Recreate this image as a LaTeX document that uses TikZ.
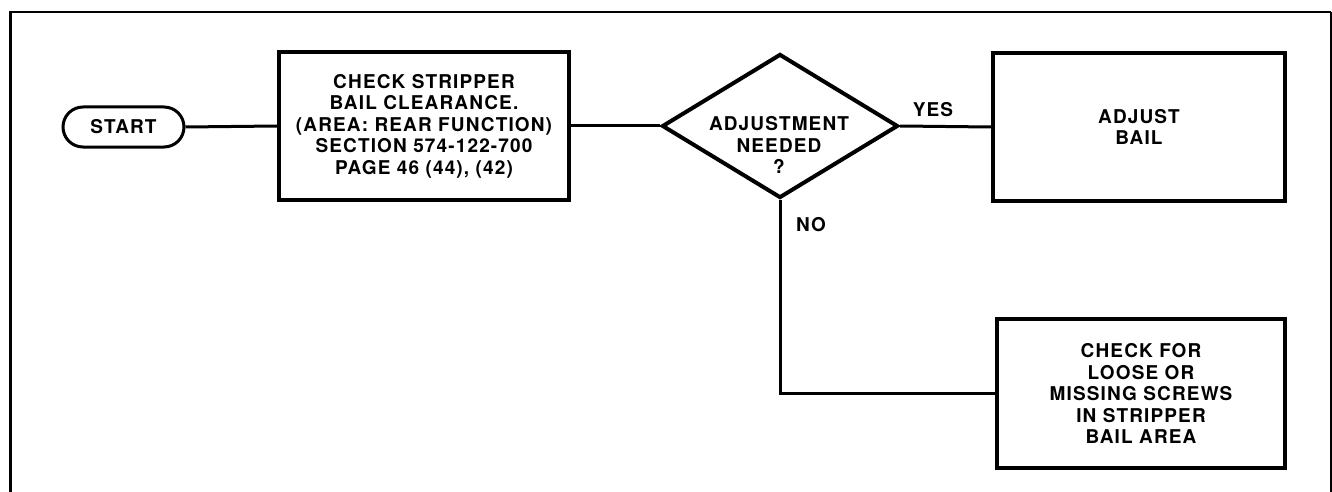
\documentclass[tikz,border=0pt]{standalone}
\usepackage{fontspec}
\newfontfamily\lblfont[LetterSpace=6]{TeX Gyre Heros}
\usetikzlibrary{shapes.geometric,shapes.misc}
\begin{document}
\begin{tikzpicture}[x=1pt,y=-1pt,
  every node/.style={font=\lblfont\bfseries\fontsize{19}{21.5}\selectfont},
  boxnode/.style={draw,line width=4pt,rectangle,inner sep=0pt,align=center},
  termnode/.style={draw,line width=3pt,rounded rectangle,inner sep=0pt,minimum width=121pt,minimum height=40pt},
  decnode/.style={draw,line width=4pt,diamond,inner sep=0pt,minimum width=236pt,minimum height=144pt},
  plain/.style={inner sep=0pt,align=center},
  conn/.style={line width=3pt}]
\useasboundingbox (0,0) rectangle (1332,492);
% frame
\draw[line width=2pt] (9,12.5) -- (1331,12.5);
\draw[line width=3pt] (10,11.5) -- (10,492);
\draw[line width=1.3pt] (1331,12) -- (1331,492);
% nodes
\node[termnode] (start) at (123.5,127) {START};
\node[boxnode,minimum width=290pt,minimum height=148pt] (box1) at (424,126)
  {CHECK STRIPPER\\BAIL CLEARANCE.\\(AREA: REAR FUNCTION)\\SECTION 574-122-700\\PAGE 46 (44), (42)};
\node[decnode] (dec) at (780,126) {};
\node[plain] (dectext) at (779,145) {ADJUSTMENT\\NEEDED\\?};
\node[boxnode,minimum width=292pt,minimum height=148pt] (adj) at (1139,127) {ADJUST\\BAIL};
\node[boxnode,minimum width=288pt,minimum height=149pt] (chk) at (1141,393.5)
  {CHECK FOR\\LOOSE OR\\MISSING SCREWS\\IN STRIPPER\\BAIL AREA};
% connectors
\draw[conn] (start.east) -- (box1.west);
\draw[conn] (box1.east) -- (dec.west);
\draw[conn] (dec.east) -- (adj.west);
\draw[conn] (dec.south) |- (chk.west);
% labels
\node[plain] (yes) at (933,110) {YES};
\node[plain] (no) at (811,225) {NO};
\end{tikzpicture}
\end{document}
